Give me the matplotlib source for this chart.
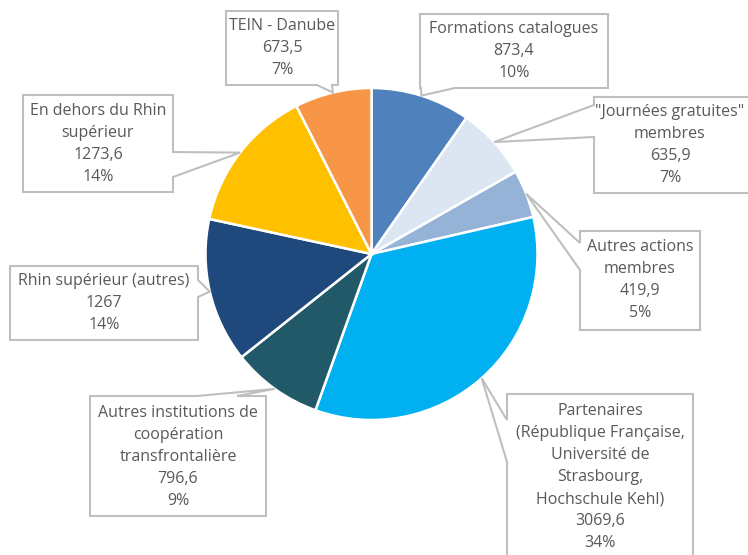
import numpy as np
import matplotlib.pyplot as plt
from matplotlib.patches import Polygon

# values (clockwise from 12 o'clock)
labels = [
    "Formations catalogues",
    "\"Journées gratuites\"\nmembres",
    "Autres actions\nmembres",
    "Partenaires\n(République Française,\nUniversité de\nStrasbourg,\nHochschule Kehl)",
    "Autres institutions de\ncoopération\ntransfrontalière",
    "Rhin supérieur (autres)",
    "En dehors du Rhin\nsupérieur",
    "TEIN - Danube",
]
values = [873.4, 635.9, 419.9, 3069.6, 796.6, 1267, 1273.6, 673.5]
value_text = ["873,4", "635,9", "419,9", "3069,6", "796,6", "1267", "1273,6", "673,5"]
colors = ["#4F81BD", "#DCE6F2", "#95B3D7", "#00B0F0", "#215968", "#1F497D", "#FFC000", "#F79646"]

# callout layout in pixels: box (x0, y0, x1, y1), side of the pointer, pointer base, text centre
boxes = [
    ((420, 14, 608, 88), "bottom", (421, 455), (514, 51)),
    ((594, 97, 760, 193), "left", (105, 137), (670, 145)),
    ((580, 231, 700, 330), "left", (243, 270), (640, 280)),
    ((507, 394, 693, 570), "left", (420, 462), (600, 477)),
    ((90, 396, 266, 516), "top", (197, 237), (178, 457)),
    ((10, 266, 198, 340), "right", (280, 297), (104, 303)),
    ((23, 95, 173, 192), "right", (152, 177), (98, 144)),
    ((226, 11, 338, 85), "bottom", (317, 332), (282, 48)),
]

cx, cy, r = 371.5, 254, 166

fig = plt.figure(figsize=(7.48, 5.55), dpi=100)
ax = fig.add_axes([0, 0, 1, 1])

ax.pie(values, colors=colors, startangle=-90, counterclock=True, center=(cx, cy), radius=r,
       frame=True, wedgeprops=dict(edgecolor="white", linewidth=1.8))

total = sum(values)
cum = 0
for i, v in enumerate(values):
    mid = np.deg2rad((cum + v / 2) / total * 360)
    cum += v
    tip = (cx + r * np.sin(mid), cy - r * np.cos(mid))
    (x0, y0, x1, y1), side, (a, b), (tx, ty) = boxes[i]
    if side == "bottom":
        pts = [(x0, y0), (x1, y0), (x1, y1), (b, y1), tip, (a, y1), (x0, y1)]
    elif side == "top":
        pts = [(x0, y0), (a, y0), tip, (b, y0), (x1, y0), (x1, y1), (x0, y1)]
    elif side == "right":
        pts = [(x0, y0), (x1, y0), (x1, a), tip, (x1, b), (x1, y1), (x0, y1)]
    else:
        pts = [(x0, y0), (x1, y0), (x1, y1), (x0, y1), (x0, b), tip, (x0, a)]
    ax.add_patch(Polygon(pts, closed=True, facecolor="white", edgecolor="#BFBFBF",
                         linewidth=1.5, zorder=3))
    pct = f"{round(v / total * 100)}%"
    ax.text(tx, ty, f"{labels[i]}\n{value_text[i]}\n{pct}", ha="center", va="center",
            fontsize=11.5, color="#595959", family="Open Sans", linespacing=1.5, zorder=4)

ax.set_xlim(0, 748)
ax.set_ylim(555, 0)
ax.set_aspect("equal")
ax.axis("off")

fig.savefig("out.png", dpi=100)
